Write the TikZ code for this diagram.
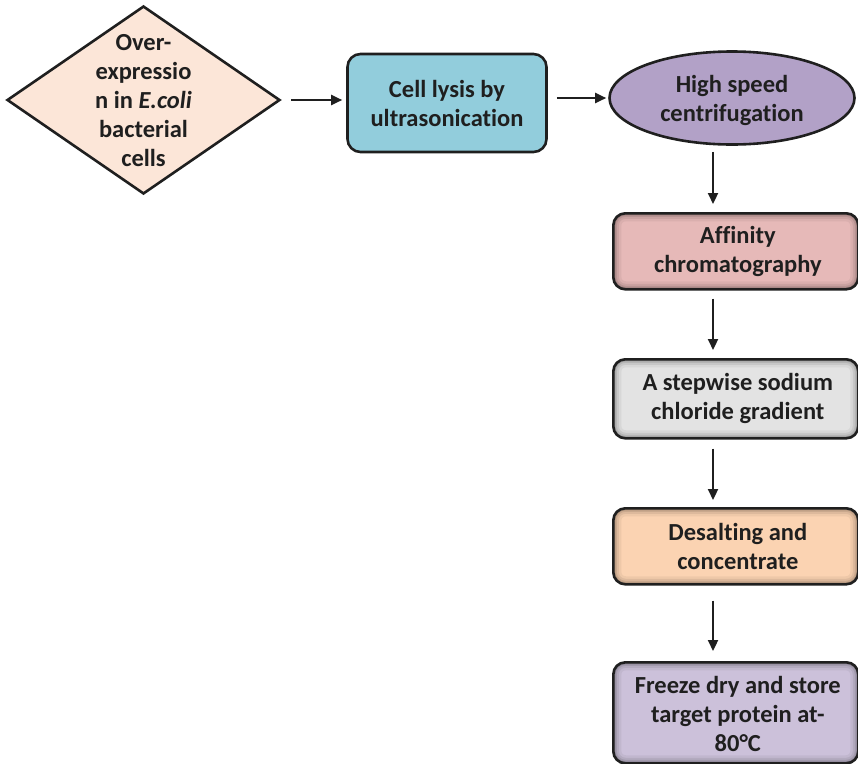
\documentclass[tikz,border=0pt]{standalone}
\usepackage{fontspec}
\setmainfont{Carlito}[Ligatures={NoCommon}]
\usetikzlibrary{shapes.geometric,arrows.meta}

\definecolor{peach}{HTML}{FCE6D8}
\definecolor{lysisblue}{HTML}{92CDDC}
\definecolor{spinpurple}{HTML}{B2A1C7}
\definecolor{affpink}{HTML}{E6B9B8}
\definecolor{saltgrey}{HTML}{E3E3E3}
\definecolor{desaltorange}{HTML}{FBD3B2}
\definecolor{storelilac}{HTML}{CCC1DA}

\tikzset{
  x=1pt, y=-1pt,
  outline/.style={draw=black!88, line width=2.6pt},
  label txt/.style={font=\bfseries\fontsize{24.5}{29}\selectfont, text=black!88,
    align=center, inner sep=0pt},
  stagebox/.style={outline, rounded corners=12pt, inner sep=0pt,
    minimum width=245pt, anchor=north west},
  shaded/.style={path picture={
    \foreach \w/\o in {16/0.05, 11/0.07, 7/0.09, 4/0.12}
      \draw[line width=\w pt, black, opacity=\o, rounded corners=12pt]
        (path picture bounding box.south west) rectangle
        (path picture bounding box.north east);}},
  flow/.style={draw=black!88, line width=2.2pt,
    -{Triangle[length=11pt, width=10pt]}},
}

\begin{document}
\begin{tikzpicture}
\useasboundingbox (0,0) rectangle (858,763);
\clip (0,0) rectangle (858,763);

% expression step
\node (expr) [diamond, outline, fill=peach, minimum width=273pt,
  minimum height=188pt, inner sep=0pt] at (143.5,100) {};
\node (exprtxt) [label txt] at (143.5,101)
  {Over-\\expressio\\n in \textit{E.coli}\\bacterial\\cells};

% lysis
\node (lysis) [outline, fill=lysisblue, rounded corners=13pt,
  minimum width=199pt, minimum height=98pt, inner sep=0pt] at (447,103) {};
\node [label txt] at (lysis) {Cell lysis by\\ultrasonication};

% centrifugation
\node (spin) [ellipse, outline, fill=spinpurple, minimum width=245pt,
  minimum height=93pt, inner sep=0pt] at (732,98) {};
\node [label txt] at (732,100) {High speed\\centrifugation};

% purification column
\node (aff) [stagebox, shaded, fill=affpink, minimum height=76pt] at (612,212) {};
\node [label txt] at ([xshift=2pt]aff.center) {Affinity\\chromatography};

\node (salt) [stagebox, shaded, fill=saltgrey, minimum height=79pt] at (612,358) {};
\node [label txt] at ([xshift=2pt]salt.center) {A stepwise sodium\\chloride gradient};

\node (desalt) [stagebox, shaded, fill=desaltorange, minimum height=76pt] at (612,507) {};
\node [label txt] at ([xshift=2pt]desalt.center) {Desalting and\\concentrate};

\node (store) [stagebox, shaded, fill=storelilac, minimum height=101pt] at (612,661) {};
\node [label txt] at ([xshift=2pt,yshift=-1pt]store.center)
  {Freeze dry and store\\target protein at-\\80°C};

% connectors
\coordinate (col) at (713,0);
\draw[flow, shorten <=10pt, shorten >=4pt] (expr.east) -- (lysis.west |- expr.east);
\draw[flow, shorten <=9pt, shorten >=2pt] (lysis.east |- spin.west) -- (spin.west);
\draw[flow, shorten <=6pt, shorten >=8pt] (spin.south -| col) -- (aff.north -| col);
\draw[flow, shorten <=8pt, shorten >=8pt] (aff.south -| col) -- (salt.north -| col);
\draw[flow, shorten <=9pt, shorten >=7pt] (salt.south -| col) -- (desalt.north -| col);
\draw[flow, shorten <=15pt, shorten >=10pt] (desalt.south -| col) -- (store.north -| col);
\end{tikzpicture}
\end{document}
